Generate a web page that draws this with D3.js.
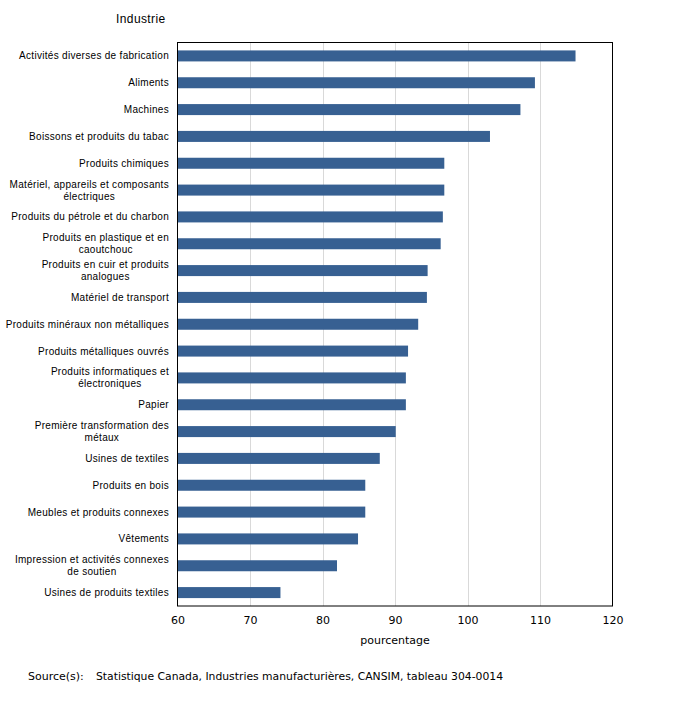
<!DOCTYPE html>
<html><head><meta charset="utf-8">
<script src="https://cdn.jsdelivr.net/npm/d3@7"></script>
<style>body{margin:0;background:#fff;} svg{display:block;}</style>
</head><body>
<script>
const categories = [
  "Activités diverses de fabrication",
  "Aliments",
  "Machines",
  "Boissons et produits du tabac",
  "Produits chimiques",
  "Matériel, appareils et composants|électriques",
  "Produits du pétrole et du charbon",
  "Produits en plastique et en|caoutchouc",
  "Produits en cuir et produits|analogues",
  "Matériel de transport",
  "Produits minéraux non métalliques",
  "Produits métalliques ouvrés",
  "Produits informatiques et|électroniques",
  "Papier",
  "Première transformation des|métaux",
  "Usines de textiles",
  "Produits en bois",
  "Meubles et produits connexes",
  "Vêtements",
  "Impression et activités connexes|de soutien",
  "Usines de produits textiles"
];
const values = [114.9, 109.3, 107.3, 103.1, 96.8, 96.8, 96.6, 96.3, 94.5, 94.4, 93.2, 91.8, 91.5, 91.5, 90.1, 87.9, 85.9, 85.9, 84.9, 82.0, 74.2];
const xTicks = [60, 70, 80, 90, 100, 110, 120];
const xDomain = [60, 120];
const yTitle = "Industrie";
const xTitle = "pourcentage";
const sourceLabel = "Source(s):";
const sourceText = "Statistique Canada, Industries manufacturières, CANSIM, tableau 304-0014";

const W = 688, H = 708;
const m = {left: 177.5, right: 612.5, top: 42.5, bottom: 606};
const svg = d3.select("body").append("svg").attr("width", W).attr("height", H);

const x = d3.scaleLinear().domain(xDomain).range([m.left, m.right]);
const y = d3.scaleBand().domain(categories).range([m.top, m.bottom]).paddingInner(0.59).paddingOuter(0.295);

// gridlines
svg.append("g").selectAll("line").data(xTicks.slice(1, -1)).join("line")
  .attr("x1", d => Math.round(x(d)) + 0.5).attr("x2", d => Math.round(x(d)) + 0.5)
  .attr("y1", m.top).attr("y2", m.bottom)
  .attr("stroke", "#d9d9d9").attr("stroke-width", 1);

// bars
svg.append("g").selectAll("rect").data(categories).join("rect")
  .attr("x", x(60)).attr("y", d => y(d))
  .attr("width", (d, i) => x(values[i]) - x(60))
  .attr("height", y.bandwidth())
  .attr("fill", "#376092");

// border
svg.append("rect").attr("x", m.left).attr("y", m.top)
  .attr("width", m.right - m.left).attr("height", m.bottom - m.top)
  .attr("fill", "none").attr("stroke", "#000").attr("stroke-width", 1);

// x axis
const xAxis = d3.axisBottom(x).tickValues(xTicks).tickSize(0).tickPadding(10);
const gx = svg.append("g").attr("transform", `translate(0,${m.bottom})`).call(xAxis);
gx.select(".domain").remove();
gx.selectAll("text").attr("font-family", "DejaVu Sans, Verdana, sans-serif").attr("font-size", 11).attr("fill", "#000");

svg.append("text").attr("x", x(90)).attr("y", 644).attr("text-anchor", "middle")
  .attr("font-family", "DejaVu Sans, Verdana, sans-serif").attr("font-size", 11).text(xTitle);

// y labels
const labelFont = "Liberation Sans, Arial, sans-serif";
const ls = 0.3;
const lg = svg.append("g");
categories.forEach((c, i) => {
  const lines = c.split("|");
  const cy = y(c) + y.bandwidth() / 2;
  const t = lg.append("text").attr("font-family", labelFont).attr("font-size", 10).attr("letter-spacing", ls).attr("fill", "#000");
  if (lines.length === 1) {
    t.attr("x", 169).attr("y", cy + 3.5).attr("text-anchor", "end").text(lines[0]);
  } else {
    const tmp = lg.append("text").attr("font-family", labelFont).attr("font-size", 10).attr("letter-spacing", ls).text(lines[0]);
    const w = tmp.node().getComputedTextLength();
    tmp.remove();
    const cx = 169 - w / 2;
    lines.forEach((ln, k) => {
      t.append("tspan").attr("x", cx).attr("y", cy - 2.5 + k * 12).attr("text-anchor", "middle").text(ln);
    });
  }
});

svg.append("text").attr("x", 116).attr("y", 23).attr("font-family", labelFont).attr("font-size", 12).attr("letter-spacing", 0.4).text(yTitle);

svg.append("text").attr("x", 28).attr("y", 680).attr("font-family", "DejaVu Sans, Verdana, sans-serif").attr("font-size", 11)
  .text(sourceLabel);
svg.append("text").attr("x", 96).attr("y", 680).attr("font-family", "DejaVu Sans, Verdana, sans-serif").attr("font-size", 10.8)
  .attr("textLength", 407).attr("lengthAdjust", "spacing")
  .text(sourceText);
</script>
</body></html>
